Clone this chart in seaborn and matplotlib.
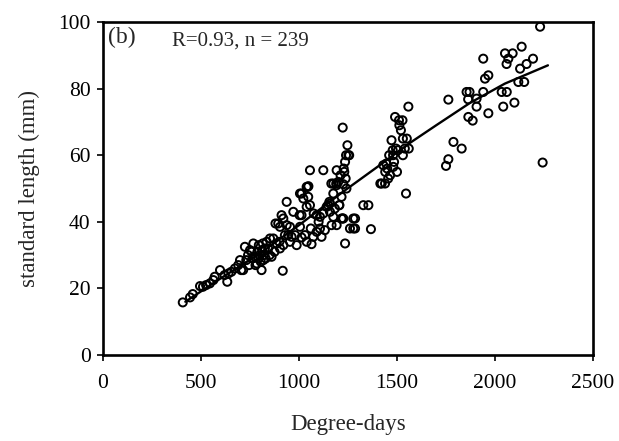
import matplotlib
matplotlib.use("Agg")
import matplotlib.pyplot as plt
import seaborn as sns
import pandas as pd

degree_days = [407,444,458,495,510,526,545,563,570,597,620,634,640,655,673,690,699,705,715,724,
 731,740,745,750,758,763,767,775,778,784,788,792,795,800,805,809,812,815,818,822,826,830,835,843,
 850,852,860,869,875,880,886,894,900,903,903,911,917,920,920,928,937,937,945,954,954,962,971,980,
 988,1003,1005,1005,1013,1013,1013,1022,1030,1039,1039,1039,1044,1047,1048,1056,1056,1060,1064,
 1073,1075,1090,1090,1100,1107,1107,1115,1124,1124,1132,1141,1148,1155,1158,1158,1165,1166,1175,
 1175,1175,1183,1190,1192,1192,1192,1200,1205,1206,1212,1217,1217,1223,1223,1226,1226,1228,1231,
 1235,1235,1238,1240,1242,1247,1252,1256,1260,1277,1277,1286,1286,1328,1354,1367,1415,1422,1430,
 1439,1440,1445,1450,1455,1460,1465,1472,1478,1480,1481,1485,1490,1495,1500,1505,1510,1512,1520,
 1528,1530,1530,1540,1546,1550,1558,1560,1750,1762,1762,1788,1830,1855,1863,1864,1870,1886,1906,
 1906,1940,1940,1949,1966,1966,2034,2042,2051,2059,2060,2068,2090,2099,2119,2128,2136,2149,2161,
 2194,2230,2243]
std_length = [15.8,17.3,18.3,20.7,20.5,21,21.5,22.5,23.5,25.5,24,22,24.5,25,26,27,28.5,25.5,25.5,32.5,
 28.5,30,27,31.5,31,29,33.5,29.5,27,27.5,31,29,33,30,28,25.5,31.5,33.5,28.5,30,32,29,34,32,
 30,35,29.5,35,31,39.5,33.5,39.5,34,38.5,32,42,25.3,41,33,36,46,39,36,38.5,34,35.5,43,36,
 33,42,38.5,48.5,35.3,42,48.5,47,36,44.5,34,50.5,50.5,47.5,50.7,45,55.5,38,33.3,
 35.5,42.5,42,37,40,41.5,38,35.5,42.5,55.5,37.5,44.5,45,46,45.5,43,51.5,39,51.5,
 48.5,41.5,44,51.5,51,55.5,39,52,45,45,54,47.5,41,41,68.3,51.3,41,56,55,
 33.5,58,53,60,50,63,60,60,38,41,38,41,38,45,45,37.8,51.5,51.5,57,
 51.5,55,57.5,56,53,60,54,64.5,61.5,60,56.5,58,71.5,62,55,61.5,70.5,69,67.5,
 70.5,65,60,62,48.5,65,74.6,62,56.8,58.8,76.7,64,62,79,76.8,71.5,79,70.4,77,
 74.6,79,89,83,84,72.6,79,74.6,90.6,87.4,79,89,90.6,75.8,82,86,92.6,82,87.4,
 89,98.6,57.8]

fit_x = [420, 600, 800, 1000, 1224, 1400, 1566, 1700, 1872, 2050, 2270]
fit_y = [16, 23, 30.5, 39, 49, 56.5, 63.7, 69, 75.7, 81.5, 87]

x_ticks = [0, 500, 1000, 1500, 2000, 2500]
y_ticks = [0, 20, 40, 60, 80, 100]

pts = pd.DataFrame({"dd": degree_days, "sl": std_length})
fit = pd.DataFrame({"dd": fit_x, "sl": fit_y})

sns.set_theme(style="ticks")
plt.rcParams["font.family"] = ["Liberation Serif", "DejaVu Serif"]

fig = plt.figure(figsize=(6.19, 4.41), dpi=100)
ax = fig.add_axes([0.1664, 0.195, 0.7916, 0.755])

sns.scatterplot(data=pts, x="dd", y="sl", ax=ax, marker="o", s=34,
                facecolor="none", edgecolor="black", linewidth=1.4, zorder=3)
sns.lineplot(data=fit, x="dd", y="sl", ax=ax, color="black", linewidth=1.7, zorder=4)

ax.set_xlim(0, 2500)
ax.set_ylim(0, 100)
ax.set_xticks(x_ticks)
ax.set_yticks(y_ticks)
ax.tick_params(axis="both", direction="out", length=4, width=1.2, labelsize=15.5, colors="black")
ax.tick_params(axis="x", pad=10)
ax.tick_params(axis="y", pad=5)
for sp in ax.spines.values():
    sp.set_visible(True)
    sp.set_linewidth(1.9)
    sp.set_color("black")
ax.set_xlabel("Degree-days", fontsize=16.5, labelpad=15)
ax.set_ylabel("standard length (mm)", fontsize=16.5, labelpad=13)

ax.text(0.01, 0.985, "(b)", transform=ax.transAxes, fontsize=17, va="top", ha="left")
ax.text(0.14, 0.97, "R=0.93, n = 239", transform=ax.transAxes, fontsize=15, va="top", ha="left")

fig.savefig("out.png", dpi=100, facecolor="white")
